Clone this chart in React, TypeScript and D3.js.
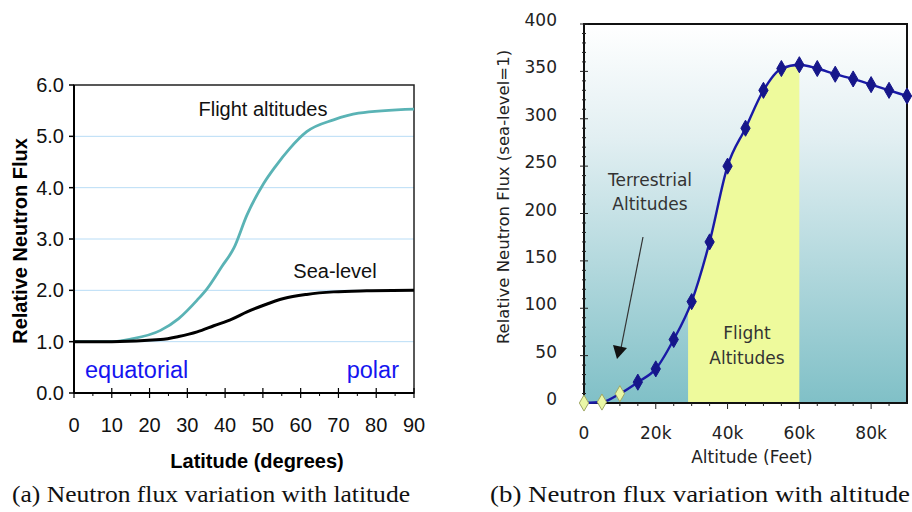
import React from "react";
import * as d3 from "d3";

// (a) latitude chart
const latitudes = [0, 10, 15, 22.9, 27.7, 32.6, 35.2, 39.1, 42.3, 45.8, 50.2, 53.3, 57.2, 61.6, 68.7, 75.3, 90];
const flightFlux = [1.0, 1.0, 1.05, 1.22, 1.45, 1.81, 2.03, 2.46, 2.82, 3.47, 4.08, 4.41, 4.77, 5.09, 5.32, 5.45, 5.53];
const seaLat = [0, 10, 22.9, 27.7, 32.6, 37, 41.8, 45.8, 50.2, 55.5, 61.6, 68.7, 77.5, 90];
const seaFlux = [1.0, 1.0, 1.04, 1.1, 1.19, 1.31, 1.44, 1.58, 1.71, 1.84, 1.92, 1.97, 1.99, 2.0];
const latTicks = [0, 10, 20, 30, 40, 50, 60, 70, 80, 90];
const fluxTicks = [0, 1, 2, 3, 4, 5, 6];

// (b) altitude chart
const altitudes = [0, 5, 10, 15, 20, 25, 30, 35, 40, 45, 50, 55, 60, 65, 70, 75, 80, 85, 90]; // thousand feet
const altFlux = [0, 1, 9.8, 22, 36, 67, 107, 170, 250, 290, 330, 353, 357, 353, 347, 342, 336, 330, 324];
const terrestrialCount = 3; // first points drawn as light diamonds
const altTicks = [0, 20, 40, 60, 80];
const altTickLabels = ["0", "20k", "40k", "60k", "80k"];
const altFluxTicks = [0, 50, 100, 150, 200, 250, 300, 350, 400];
const flightBand = [29, 60];

const SANS = "'Liberation Sans', Arial, sans-serif";
const WIDE = "'DejaVu Sans', Verdana, sans-serif";
const SERIF = "'Liberation Serif', 'Times New Roman', serif";

const LatitudeChart = () => {
  const x = d3.scaleLinear().domain([0, 90]).range([74, 414]);
  const y = d3.scaleLinear().domain([0, 6]).range([393, 85]);
  const line = d3.line<[number, number]>().x(d => x(d[0])).y(d => y(d[1])).curve(d3.curveMonotoneX);
  const flight = latitudes.map((v, i) => [v, flightFlux[i]] as [number, number]);
  const sea = seaLat.map((v, i) => [v, seaFlux[i]] as [number, number]);
  const minor = d3.range(5, 90, 10);

  return (
    <g>
      {fluxTicks.slice(1, -1).map(t => (
        <line key={t} x1={x(0)} x2={x(90)} y1={y(t)} y2={y(t)} stroke="#b9ddf6" strokeWidth={1} />
      ))}
      <rect x={x(0)} y={y(6)} width={x(90) - x(0)} height={y(0) - y(6)} fill="none" stroke="#222" strokeWidth={1.5} />
      <path d={line(flight) || ""} fill="none" stroke="#5ab3b5" strokeWidth={2.8} />
      <path d={line(sea) || ""} fill="none" stroke="#000" strokeWidth={3} />
      <line x1={x(0)} x2={x(90)} y1={y(0)} y2={y(0)} stroke="#000" strokeWidth={2} />
      <line x1={x(0)} x2={x(0)} y1={y(0)} y2={y(6)} stroke="#000" strokeWidth={2} />
      {fluxTicks.map(t => (
        <g key={t}>
          <line x1={x(0) - 5} x2={x(0)} y1={y(t)} y2={y(t)} stroke="#000" strokeWidth={1.5} />
          <text x={64} y={y(t) + 7} textAnchor="end" fontFamily={SANS} fontSize={20} fill="#111">{t.toFixed(1)}</text>
        </g>
      ))}
      {latTicks.map(t => (
        <g key={t}>
          <line x1={x(t)} x2={x(t)} y1={y(0) - 5} y2={y(0) + 5} stroke="#000" strokeWidth={1.2} />
          <text x={x(t)} y={432} textAnchor="middle" fontFamily={SANS} fontSize={20} fill="#111">{t}</text>
        </g>
      ))}
      {minor.map(t => (
        <line key={t} x1={x(t)} x2={x(t)} y1={y(0)} y2={y(0) + 3} stroke="#000" strokeWidth={1} />
      ))}
      <text x={257} y={468} textAnchor="middle" fontFamily={SANS} fontWeight="bold" fontSize={20}>Latitude (degrees)</text>
      <text transform={`translate(27,${241}) rotate(-90)`} textAnchor="middle" fontFamily={SANS} fontWeight="bold" fontSize={20}>Relative Neutron Flux</text>
      <text x={263} y={116} textAnchor="middle" fontFamily={SANS} fontSize={20} fill="#111">Flight altitudes</text>
      <text x={335} y={278} textAnchor="middle" fontFamily={SANS} fontSize={20} fill="#111">Sea-level</text>
      <text x={85} y={378} fontFamily={SANS} fontSize={23.5} fill="#1515f0">equatorial</text>
      <text x={399} y={378} textAnchor="end" fontFamily={SANS} fontSize={23.5} fill="#1515f0">polar</text>
      <text x={12} y={502} fontFamily={SERIF} fontSize={24} fill="#111" textLength={398} lengthAdjust="spacingAndGlyphs">(a) Neutron flux variation with latitude</text>
    </g>
  );
};

const AltitudeChart = () => {
  const x = d3.scaleLinear().domain([0, 90]).range([584, 907]);
  const y = d3.scaleLinear().domain([0, 400]).range([403, 24]);
  const pts = altitudes.map((v, i) => [v, altFlux[i]] as [number, number]);
  const line = d3.line<[number, number]>().x(d => x(d[0])).y(d => y(d[1])).curve(d3.curveMonotoneX);
  const area = d3.area<[number, number]>().x(d => x(d[0])).y0(y(0)).y1(d => y(d[1])).curve(d3.curveMonotoneX);
  const diamond = d3.symbol().type(d3.symbolDiamond).size(75)() || "";

  return (
    <g>
      <defs>
        <linearGradient id="bgGrad" x1="0" y1="0" x2="0" y2="1">
          <stop offset="0" stopColor="#ffffff" />
          <stop offset="0.3" stopColor="#e2eff2" />
          <stop offset="1" stopColor="#80c0c7" />
        </linearGradient>
        <clipPath id="bandClip">
          <rect x={x(flightBand[0])} y={y(400)} width={x(flightBand[1]) - x(flightBand[0])} height={y(0) - y(400)} />
        </clipPath>
      </defs>
      <rect x={x(0)} y={y(400)} width={x(90) - x(0)} height={y(0) - y(400)} fill="url(#bgGrad)" />
      <path d={area(pts) || ""} fill="#eefa9c" clipPath="url(#bandClip)" />
      <rect x={x(0)} y={y(400)} width={x(90) - x(0)} height={y(0) - y(400)} fill="none" stroke="#111" strokeWidth={2} />
      {d3.range(0, 401, 10).map(t => {
        const major = t % 50 === 0;
        return <line key={t} x1={x(0) - (major ? 4 : 2)} x2={x(0) + (major ? 4 : 2)} y1={y(t)} y2={y(t)} stroke="#222" strokeWidth={1} />;
      })}
      {d3.range(5, 90, 5).map(t => (
        <line key={t} x1={x(t)} x2={x(t)} y1={y(0)} y2={y(0) + (t % 20 === 0 ? 6 : 3)} stroke="#222" strokeWidth={1} />
      ))}
      {altFluxTicks.map(t => (
        <text key={t} x={557} y={y(t) + 2} textAnchor="end" fontFamily={WIDE} fontSize={17} fill="#222">{t}</text>
      ))}
      {altTicks.map((t, i) => (
        <text key={t} x={x(t)} y={439} textAnchor="middle" fontFamily={WIDE} fontSize={17} fill="#222">{altTickLabels[i]}</text>
      ))}
      <text x={752} y={463} textAnchor="middle" fontFamily={WIDE} fontSize={17} fill="#222">Altitude (Feet)</text>
      <text transform={`translate(509,${197}) rotate(-90)`} textAnchor="middle" fontFamily={WIDE} fontSize={16.5} fill="#222">Relative Neutron Flux (sea-level=1)</text>
      <text x={650} y={186} textAnchor="middle" fontFamily={WIDE} fontSize={17} fill="#333">Terrestrial</text>
      <text x={650} y={210} textAnchor="middle" fontFamily={WIDE} fontSize={17} fill="#333">Altitudes</text>
      <text x={747} y={339} textAnchor="middle" fontFamily={WIDE} fontSize={17} fill="#333">Flight</text>
      <text x={747} y={364} textAnchor="middle" fontFamily={WIDE} fontSize={17} fill="#333">Altitudes</text>
      <line x1={643} y1={237} x2={621} y2={348} stroke="#333" strokeWidth={1.2} />
      <path d="M613,345 L627,348 L617,359 Z" fill="#111" />
      <path d={line(pts) || ""} fill="none" stroke="#1a1aa6" strokeWidth={2.4} />
      {pts.map((d, i) => (
        <path key={i} d={diamond} transform={`translate(${x(d[0])},${y(d[1])})`}
          fill={i < terrestrialCount ? "#eaf7a6" : "#16168a"} stroke={i < terrestrialCount ? "#a0a866" : "#16168a"} strokeWidth={1} />
      ))}
      <text x={490} y={502} fontFamily={SERIF} fontSize={24} fill="#111" textLength={420} lengthAdjust="spacingAndGlyphs">(b) Neutron flux variation with altitude</text>
    </g>
  );
};

const App = () => (
  <svg width={912} height={512} style={{ position: "absolute", left: 0, top: 0, background: "#fff" }}>
    <LatitudeChart />
    <AltitudeChart />
  </svg>
);

export default App;
